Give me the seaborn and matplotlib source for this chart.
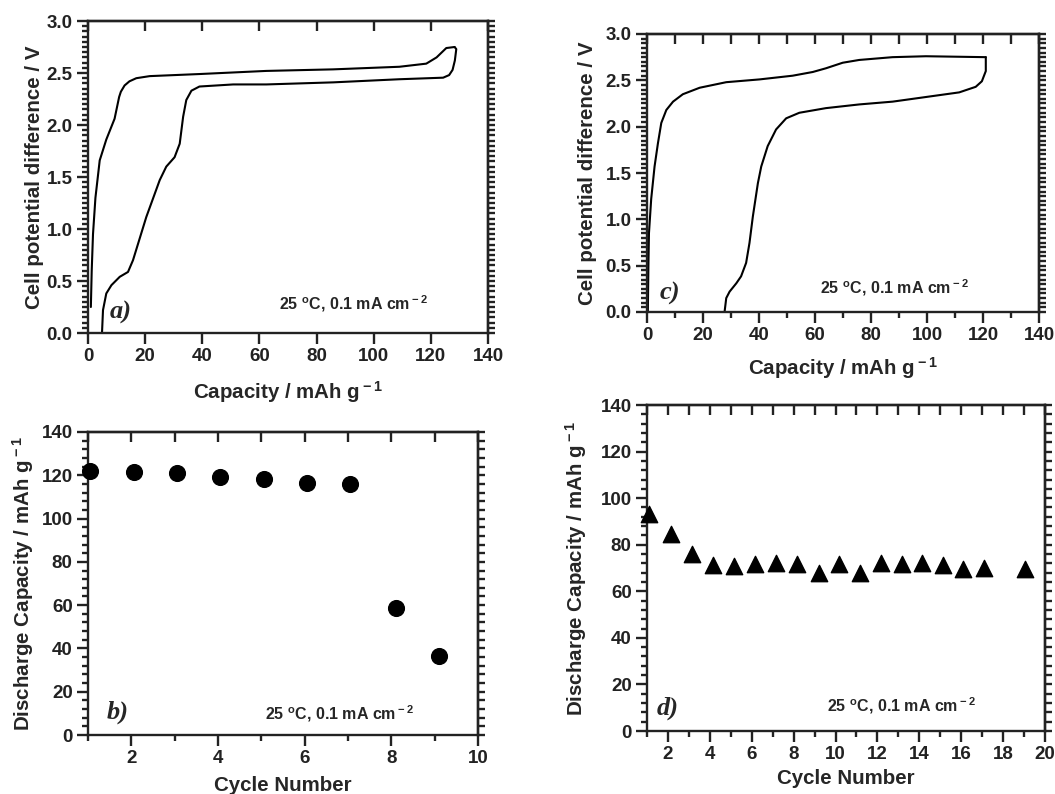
"""Charge/discharge curves and cycling of two cells (panels a-d)."""

import matplotlib
matplotlib.use("Agg")
import matplotlib.pyplot as plt
import seaborn as sns
from matplotlib.ticker import MultipleLocator

# panel a: first charge / discharge curve
charge_a_cap = [1.0, 1.3, 1.75, 2.6, 4.1, 6.4, 9.3, 10.9, 11.5, 12.8, 14.5, 16.9, 21.6, 39,
                62.4, 85.8, 109, 118.4, 122, 125.4, 128.3]
charge_a_v = [0.25, 0.6, 0.95, 1.3, 1.66, 1.86, 2.06, 2.27, 2.32, 2.38, 2.42, 2.45, 2.47, 2.49,
              2.52, 2.535, 2.56, 2.59, 2.65, 2.74, 2.75]
discharge_a_cap = [128.3, 128.9, 128.4, 127.6, 126.4, 124.3, 109, 85.8, 62.4, 50.8, 39, 36.2,
                   34.4, 33.3, 32.1, 30.3, 27.4, 25.1, 20.4, 15.75, 14, 11.1, 8.2, 6.4, 5.25, 4.9]
discharge_a_v = [2.75, 2.73, 2.62, 2.53, 2.48, 2.455, 2.44, 2.41, 2.39, 2.39, 2.37, 2.33,
                 2.24, 2.08, 1.82, 1.69, 1.6, 1.47, 1.115, 0.70, 0.587, 0.54, 0.46, 0.38, 0.22, 0.0]

# panel c: first charge / discharge curve
charge_c_cap = [0.3, 0.5, 0.7, 1.5, 2.7, 3.9, 5.1, 6.9, 9.3, 12.8, 18.8, 28.3, 40.2, 52, 59.2,
                63.9, 69.9, 75.8, 87.7, 99.6, 121]
charge_c_v = [0.0, 0.5, 0.85, 1.22, 1.57, 1.82, 2.04, 2.18, 2.27, 2.35, 2.42, 2.48, 2.51, 2.55,
              2.59, 2.63, 2.69, 2.72, 2.75, 2.76, 2.75]
discharge_c_cap = [121, 121, 119.6, 117.4, 111.5, 99.6, 87.7, 75.8, 63.9, 54.4, 49.7, 46.1,
                   43.1, 40.8, 39.6, 37.8, 36.6, 35.4, 33.6, 31.9, 29.5, 28.3, 27.7]
discharge_c_v = [2.75, 2.60, 2.49, 2.43, 2.37, 2.32, 2.27, 2.24, 2.20, 2.15, 2.09, 1.97,
                 1.79, 1.57, 1.39, 1.03, 0.745, 0.53, 0.385, 0.31, 0.22, 0.15, 0.0]

# panel b: discharge capacity vs cycle
cycles_b = [1.05, 2.05, 3.05, 4.05, 5.05, 6.05, 7.05, 8.1, 9.1]
capacity_b = [122, 121.5, 121, 119, 118.5, 116.5, 116, 58.6, 36.6]

# panel d: discharge capacity vs cycle
cycles_d = [1.1, 2.15, 3.15, 4.15, 5.15, 6.15, 7.15, 8.15, 9.2, 10.15, 11.15, 12.15, 13.15,
            14.15, 15.15, 16.1, 17.1, 19.05]
capacity_d = [93.4, 84.8, 75.8, 71.3, 71, 71.6, 72.2, 71.6, 68, 71.6, 68, 72.3, 71.9, 72,
              71.3, 69.6, 69.8, 69.5]

condition = r"25 $^{\rm o}$C, 0.1 mA cm$^{\rm -2}$"
cap_label = r"Capacity / mAh g$^{\rm -1}$"
volt_label = "Cell potential difference / V"
dis_label = r"Discharge Capacity / mAh g$^{\rm -1}$"

sns.set_theme(style="ticks")
plt.rcParams["font.family"] = ["Liberation Sans", "DejaVu Sans"]
plt.rcParams["font.weight"] = "bold"
plt.rcParams["axes.labelweight"] = "bold"
plt.rcParams["mathtext.fontset"] = "custom"
plt.rcParams["mathtext.rm"] = "Liberation Sans:bold"
plt.rcParams["mathtext.default"] = "rm"
plt.rcParams["axes.linewidth"] = 1.7
plt.rcParams["axes.edgecolor"] = "#222222"

LABEL_SIZE = 14.8
TICK_SIZE = 13.5
NOTE_SIZE = 11.5
LETTER_SIZE = 19


def style_axes(ax, xmaj, xmin, ymaj, ymin, top_step, xfmt="{:.0f}", yfmt="{:.0f}"):
    ax.xaxis.set_major_locator(MultipleLocator(xmaj))
    if xmin:
        ax.xaxis.set_minor_locator(MultipleLocator(xmin))
    ax.yaxis.set_major_locator(MultipleLocator(ymaj))
    ax.yaxis.set_minor_locator(MultipleLocator(ymin))
    ax.set_xticklabels([xfmt.format(t) for t in ax.get_xticks()])
    ax.set_yticklabels([yfmt.format(t) for t in ax.get_yticks()])
    ax.tick_params(which="both", direction="out", width=1.7, colors="#222222",
                   labelsize=TICK_SIZE, top=False, right=False, pad=3)
    ax.tick_params(which="major", length=8)
    ax.tick_params(which="minor", length=4.5)
    for lab in ax.get_xticklabels() + ax.get_yticklabels():
        lab.set_fontweight("bold")
    top = ax.secondary_xaxis("top")
    top.xaxis.set_major_locator(MultipleLocator(top_step))
    top.tick_params(direction="in", length=7, width=1.7, labeltop=False, colors="#222222")
    right = ax.secondary_yaxis("right")
    right.yaxis.set_major_locator(MultipleLocator(ymin))
    right.tick_params(direction="out", length=5, width=1.7, labelright=False, colors="#222222")


def add_notes(ax, note_xy, letter, letter_xy):
    ax.text(*note_xy, condition, fontsize=NOTE_SIZE, fontweight="bold",
            ha="center", va="center")
    ax.text(*letter_xy, letter, fontsize=LETTER_SIZE, fontweight="bold", fontstyle="italic",
            family="Liberation Serif", ha="center", va="center")


fig = plt.figure(figsize=(10.55, 7.94), dpi=100)
W, H = 1055, 794
ax_a = fig.add_axes([88 / W, (H - 333) / H, 400 / W, 312 / H])
ax_c = fig.add_axes([647 / W, (H - 312) / H, 392 / W, 278 / H])
ax_b = fig.add_axes([88 / W, (H - 735) / H, 390 / W, 303 / H])
ax_d = fig.add_axes([647 / W, (H - 731) / H, 398 / W, 326 / H])

line_kw = dict(color="black", linewidth=1.5, sort=False, estimator=None)

# a
sns.lineplot(x=charge_a_cap, y=charge_a_v, ax=ax_a, **line_kw)
sns.lineplot(x=discharge_a_cap, y=discharge_a_v, ax=ax_a, **line_kw)
ax_a.set_xlim(0, 140)
ax_a.set_ylim(0, 3)
style_axes(ax_a, 20, None, 0.5, 0.05, 20, yfmt="{:.1f}")
ax_a.set_xlabel(cap_label, fontsize=LABEL_SIZE, labelpad=10)
ax_a.set_ylabel(volt_label, fontsize=LABEL_SIZE, labelpad=2)
add_notes(ax_a, (93, 0.28), "a)", (11.5, 0.2))

# c
sns.lineplot(x=charge_c_cap, y=charge_c_v, ax=ax_c, **line_kw)
sns.lineplot(x=discharge_c_cap, y=discharge_c_v, ax=ax_c, **line_kw)
ax_c.set_xlim(0, 140)
ax_c.set_ylim(0, 3)
style_axes(ax_c, 20, 10, 0.5, 0.05, 10, yfmt="{:.1f}")
ax_c.set_xlabel(cap_label, fontsize=LABEL_SIZE, labelpad=8)
ax_c.set_ylabel(volt_label, fontsize=LABEL_SIZE, labelpad=6)
add_notes(ax_c, (88.5, 0.26), "c)", (8, 0.2))

# b
sns.scatterplot(x=cycles_b, y=capacity_b, ax=ax_b, marker="o", s=130, color="black",
                edgecolor="black", clip_on=False, zorder=3)
ax_b.set_xlim(1, 10)
ax_b.set_ylim(0, 140)
style_axes(ax_b, 2, 1, 20, 4, 1)
ax_b.set_xlabel("Cycle Number", fontsize=LABEL_SIZE, labelpad=6)
ax_b.set_ylabel(dis_label, fontsize=LABEL_SIZE, labelpad=4)
add_notes(ax_b, (6.8, 10), "b)", (1.68, 10.5))

# d
sns.scatterplot(x=cycles_d, y=capacity_d, ax=ax_d, marker="^", s=140, color="black",
                edgecolor="black", clip_on=False, zorder=3)
ax_d.set_xlim(1, 20)
ax_d.set_ylim(0, 140)
style_axes(ax_d, 2, 1, 20, 4, 1)
ax_d.set_xlabel("Cycle Number", fontsize=LABEL_SIZE, labelpad=4)
ax_d.set_ylabel(dis_label, fontsize=LABEL_SIZE, labelpad=8)
add_notes(ax_d, (13.15, 11), "d)", (2.0, 9.6))

fig.savefig("out.png", dpi=100, facecolor="white")
